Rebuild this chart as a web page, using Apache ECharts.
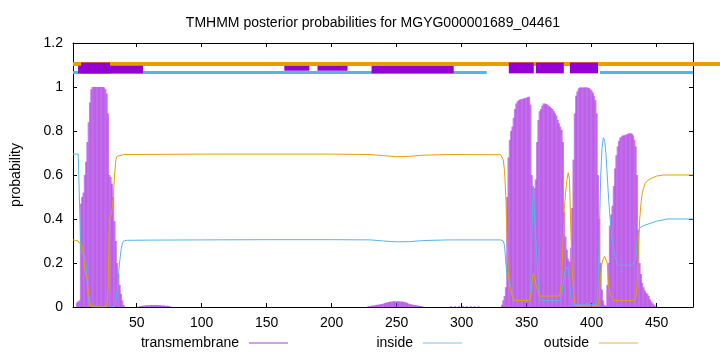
<!DOCTYPE html>
<html>
<head>
<meta charset="utf-8">
<script src="https://cdn.jsdelivr.net/npm/echarts@6/dist/echarts.min.js"></script>
<style>html,body{margin:0;padding:0;background:#fff}#c{width:720px;height:352px}</style>
</head>
<body>
<div id="c"></div>
<script>
// ---- data ----
const titleText = 'TMHMM posterior probabilities for MGYG000001689_04461';
const seqLength = 478;
const xTicks = [50, 100, 150, 200, 250, 300, 350, 400, 450];
const seriesNames = ['transmembrane', 'inside', 'outside'];

// transmembrane posterior probability per residue [residue, p]
const tmProb = [
 [4,0.02],[5,0.025],[6,0.03],[7,0.47],[8,0.5],[9,0.52],[10,0.6],[11,0.66],[12,0.75],[13,0.84],[14,0.93],[15,0.99],
 [16,1],[17,1],[18,1],[19,1],[20,1],[21,1],[22,1],[23,1],[24,1],[25,0.998],[26,0.99],[27,0.97],[28,0.88],[29,0.6],
 [30,0.59],[31,0.56],[32,0.5],[33,0.39],[34,0.3],[35,0.2],[36,0.15],[37,0.1],[38,0.06],[39,0.03],[40,0.01],
 [52,0.003],[53,0.004],[54,0.005],[55,0.006],[56,0.007],[57,0.007],[58,0.008],[59,0.008],[60,0.008],[61,0.009],
 [62,0.009],[63,0.009],[64,0.009],[65,0.009],[66,0.009],[67,0.008],[68,0.008],[69,0.008],[70,0.007],[71,0.007],
 [72,0.006],[73,0.006],[74,0.005],[75,0.004],[76,0.003],
 [228,0.003],[229,0.004],[230,0.005],[231,0.006],[232,0.007],[233,0.008],[234,0.009],[235,0.01],[236,0.011],
 [237,0.012],[238,0.013],[239,0.014],[240,0.016],[241,0.018],[242,0.02],[243,0.022],[244,0.023],[245,0.024],
 [246,0.025],[247,0.025],[248,0.026],[249,0.026],[250,0.026],[251,0.026],[252,0.026],[253,0.025],[254,0.025],
 [255,0.024],[256,0.023],[257,0.021],[258,0.019],[259,0.016],[260,0.014],[261,0.012],[262,0.011],[263,0.01],
 [264,0.009],[265,0.008],[266,0.007],[267,0.006],[268,0.005],[269,0.004],[270,0.003],
 [292,0.004],[295,0.004],[298,0.004],[301,0.004],[304,0.004],[307,0.004],[310,0.004],[313,0.004],
 [331,0.01],[332,0.03],[333,0.05],[334,0.09],[335,0.5],[336,0.68],[337,0.76],[338,0.8],[339,0.82],[340,0.86],
 [341,0.9],[342,0.925],[343,0.935],[344,0.94],[345,0.943],[346,0.945],[347,0.947],[348,0.948],[349,0.95],
 [350,0.952],[351,0.955],[352,0.956],[353,0.92],[354,0.6],[355,0.55],[356,0.54],[357,0.58],[358,0.75],[359,0.85],
 [360,0.89],[361,0.9],[362,0.915],[363,0.925],[364,0.925],[365,0.923],[366,0.92],[367,0.915],[368,0.91],[369,0.905],
 [370,0.9],[371,0.89],[372,0.88],[373,0.87],[374,0.85],[375,0.835],[376,0.82],[377,0.805],[378,0.75],[379,0.43],
 [380,0.32],[381,0.26],[382,0.22],[383,0.207],[384,0.27],[385,0.45],[386,0.67],[387,0.88],[388,0.96],[389,0.98],
 [390,0.994],[391,0.998],[392,0.998],[393,0.998],[394,0.998],[395,0.998],[396,0.998],[397,0.998],[398,0.995],
 [399,0.99],[400,0.985],[401,0.975],[402,0.96],[403,0.94],[404,0.88],[405,0.6],[406,0.4],[407,0.2],[408,0.08],
 [409,0.03],[410,0.01],[411,0.005],[412,0.1],[413,0.2],[414,0.37],[415,0.42],[416,0.46],[417,0.55],[418,0.63],
 [419,0.69],[420,0.73],[421,0.755],[422,0.77],[423,0.775],[424,0.78],[425,0.78],[426,0.783],[427,0.785],[428,0.788],
 [429,0.79],[430,0.79],[431,0.788],[432,0.78],[433,0.76],[434,0.73],[435,0.6],[436,0.35],[437,0.2],[438,0.15],
 [439,0.11],[440,0.09],[441,0.075],[442,0.065],[443,0.06],[444,0.05],[445,0.035],[446,0.025],[447,0.017],
 [448,0.01],[449,0.005]
];

// inside posterior probability [residue, p]
const insideProb = [
 [1,0.695],[5,0.695],[6,0.69],[7,0.26],[8,0.245],[9,0.24],[10,0.235],[11,0.2],[12,0.1],[13,0.03],[14,0.005],[15,0],
 [33,0],[34,0.02],[35,0.08],[36,0.15],[37,0.21],[38,0.26],[39,0.29],[40,0.3],[42,0.303],[60,0.304],[100,0.305],
 [150,0.306],[200,0.306],[230,0.305],[240,0.3],[250,0.296],[260,0.297],[270,0.302],[290,0.305],[330,0.305],
 [331,0.305],[332,0.3],[333,0.28],[334,0.2],[335,0.14],[336,0.13],[337,0.12],[338,0.08],[339,0.05],[340,0.03],
 [352,0.03],[353,0.05],[354,0.3],[355,0.55],[356,0.42],[357,0.33],[358,0.2],[359,0.1],[360,0.05],[361,0.03],
 [376,0.03],[377,0.05],[378,0.1],[379,0.15],[380,0.17],[381,0.18],[382,0.17],[383,0.12],[384,0.05],[385,0.01],
 [404,0.01],[405,0.1],[406,0.35],[407,0.6],[408,0.72],[409,0.77],[410,0.76],[411,0.7],[412,0.6],[413,0.5],
 [414,0.42],[415,0.35],[416,0.3],[417,0.26],[418,0.23],[419,0.21],[420,0.19],[431,0.19],[432,0.2],[433,0.21],
 [434,0.22],[435,0.3],[436,0.34],[437,0.36],[440,0.37],[445,0.38],[450,0.39],[458,0.4],[478,0.4]
];

// outside posterior probability [residue, p]
const outsideProb = [
 [1,0.305],[5,0.3],[6,0.29],[7,0.285],[8,0.28],[9,0.24],[10,0.17],[11,0.15],[12,0.12],[13,0.06],[14,0.02],[15,0],
 [27,0],[28,0.08],[29,0.4],[30,0.41],[31,0.44],[32,0.5],[33,0.6],[34,0.67],[35,0.685],[36,0.69],[40,0.693],
 [100,0.695],[200,0.695],[230,0.693],[240,0.688],[250,0.683],[260,0.685],[270,0.69],[290,0.693],[330,0.692],
 [331,0.688],[332,0.67],[333,0.62],[334,0.5],[335,0.3],[336,0.14],[337,0.1],[338,0.07],[339,0.05],[340,0.03],
 [352,0.03],[353,0.04],[354,0.1],[355,0.15],[356,0.14],[357,0.11],[358,0.08],[359,0.06],[360,0.05],[375,0.05],
 [376,0.07],[377,0.13],[378,0.3],[379,0.45],[380,0.52],[381,0.58],[382,0.61],[383,0.58],[384,0.35],[385,0.18],
 [386,0.08],[387,0.02],[388,0.005],[405,0.005],[406,0.05],[407,0.15],[408,0.2],[409,0.22],[410,0.23],[411,0.23],
 [412,0.2],[413,0.1],[414,0.07],[415,0.05],[416,0.04],[417,0.03],[433,0.03],[434,0.04],[435,0.1],[436,0.27],
 [437,0.4],[438,0.47],[439,0.52],[440,0.54],[441,0.56],[443,0.575],[446,0.585],[450,0.595],[455,0.6],[478,0.6]
];

// topology annotation segments [start, end, low, high]
const topOutside = [[1, 500, 1.0955, 1.1136]];
const topInside = [[1, 319.3, 1.0591, 1.0727], [406.4, 478, 1.0591, 1.0727]];
const topTM = [
 [4.9, 54.9, 1.062, 1.097], [7.2, 29.5, 1.062, 1.111],
 [163.6, 182.9, 1.074, 1.096], [189.1, 212.2, 1.074, 1.096],
 [230.7, 293.9, 1.062, 1.096],
 [336.3, 355.5, 1.062, 1.111], [357.1, 378.6, 1.062, 1.111], [383.3, 404.9, 1.062, 1.111]
];

// ---- chart ----
const FONT = 'Liberation Sans';
const C_TM = '#9400d3', C_TMBAR = 'rgba(165,40,225,0.6)';
const C_IN = '#56b4e9', C_OUT = '#e69f00';

function rectSeries(data, color) {
  return {
    type: 'custom', xAxisIndex: 0, yAxisIndex: 0, clip: false, silent: true,
    data: data, encode: { x: [0, 1], y: [2, 3] }, z: 5,
    renderItem: function (params, api) {
      const a = api.coord([api.value(0), api.value(3)]);
      const b = api.coord([api.value(1), api.value(2)]);
      return { type: 'rect', shape: { x: a[0], y: a[1], width: b[0] - a[0], height: b[1] - a[1] }, style: { fill: color } };
    }
  };
}

const chart = echarts.init(document.getElementById('c'), null, { renderer: 'canvas' });
const axisCommon = {
  axisLine: { show: true, onZero: false, lineStyle: { color: '#000', width: 1 } },
  splitLine: { show: false }
};
chart.setOption({
  animation: false,
  backgroundColor: '#fff',
  textStyle: { fontFamily: FONT },
  title: {
    text: titleText, left: 368, top: 11, textAlign: 'center',
    textStyle: { fontFamily: FONT, fontSize: 14, fontWeight: 'normal', color: '#000' }
  },
  grid: { left: 73, right: 27, top: 43, bottom: 45, containLabel: false },
  xAxis: [
    Object.assign({}, axisCommon, {
      type: 'value', min: 1, max: seqLength, position: 'bottom',
      axisTick: { show: true, inside: true, length: 4, customValues: xTicks, lineStyle: { color: '#000' } },
      axisLabel: { show: true, customValues: xTicks, margin: 9, fontSize: 14, color: '#000', fontFamily: FONT }
    }),
    Object.assign({}, axisCommon, {
      type: 'value', min: 1, max: seqLength, position: 'top',
      axisTick: { show: true, inside: true, length: 4, customValues: xTicks, lineStyle: { color: '#000' } },
      axisLabel: { show: false }
    })
  ],
  yAxis: [
    Object.assign({}, axisCommon, {
      type: 'value', min: 0, max: 1.2, interval: 0.2, position: 'left',
      name: 'probability', nameLocation: 'middle', nameGap: 50,
      nameTextStyle: { fontSize: 14, color: '#000', fontFamily: FONT },
      axisTick: { show: true, inside: true, length: 4, lineStyle: { color: '#000' } },
      axisLabel: { show: true, margin: 10, fontSize: 14, color: '#000', fontFamily: FONT }
    }),
    Object.assign({}, axisCommon, {
      type: 'value', min: 0, max: 1.2, interval: 0.2, position: 'right',
      axisTick: { show: true, inside: true, length: 4, lineStyle: { color: '#000' } },
      axisLabel: { show: false }
    })
  ],
  legend: [
    { data: [{ name: seriesNames[0], itemStyle: { color: '#a040d0' } }], right: 432, top: 336, padding: 0, align: 'right',
      icon: 'rect', itemWidth: 39, itemHeight: 1, textStyle: { fontSize: 14, color: '#000', fontFamily: FONT, padding: [0, 5, 0, 0] } },
    { data: [{ name: seriesNames[1], itemStyle: { color: '#7cc4ea' } }], right: 258, top: 336, padding: 0, align: 'right',
      icon: 'rect', itemWidth: 39, itemHeight: 1, textStyle: { fontSize: 14, color: '#000', fontFamily: FONT, padding: [0, 5, 0, 0] } },
    { data: [{ name: seriesNames[2], itemStyle: { color: '#eeb040' } }], right: 82, top: 336, padding: 0, align: 'right',
      icon: 'rect', itemWidth: 39, itemHeight: 1, textStyle: { fontSize: 14, color: '#000', fontFamily: FONT, padding: [0, 5, 0, 0] } }
  ],
  series: [
    { name: seriesNames[0], type: 'bar', xAxisIndex: 0, yAxisIndex: 0, data: tmProb, barWidth: 1.9,
      itemStyle: { color: C_TMBAR }, silent: true, z: 1 },
    { name: seriesNames[1], type: 'line', xAxisIndex: 0, yAxisIndex: 0, data: insideProb, symbol: 'none',
      lineStyle: { color: C_IN, width: 1 }, itemStyle: { color: C_IN }, silent: true, z: 2 },
    { name: seriesNames[2], type: 'line', xAxisIndex: 0, yAxisIndex: 0, data: outsideProb, symbol: 'none',
      lineStyle: { color: C_OUT, width: 1 }, itemStyle: { color: C_OUT }, silent: true, z: 3 },
    rectSeries(topOutside, C_OUT),
    rectSeries(topInside, C_IN),
    rectSeries(topTM, C_TM)
  ]
});
</script>
</body>
</html>
